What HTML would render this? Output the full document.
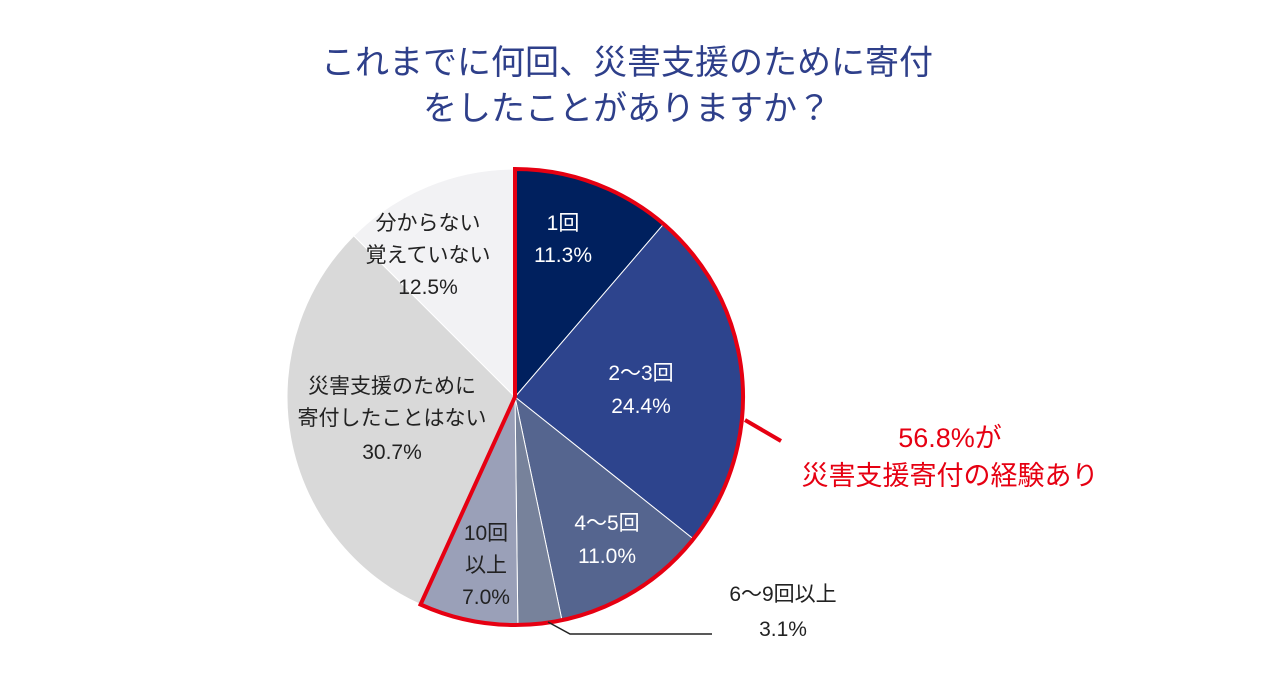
<!DOCTYPE html>
<html><head><meta charset="utf-8">
<style>
body{margin:0;background:#fff;}
svg text{font-family:"Liberation Sans","Noto Sans CJK JP",sans-serif;}
</style></head>
<body>
<svg id="s" width="1280" height="670" xmlns="http://www.w3.org/2000/svg">
<text x="627" y="74" font-size="34" fill="#2e3f8a" text-anchor="middle">これまでに何回、災害支援のために寄付</text>
<text x="627" y="120" font-size="34" fill="#2e3f8a" text-anchor="middle">をしたことがありますか？</text>
<g id="pie"></g>
<g font-size="21" text-anchor="middle">
<text x="563" y="230" fill="#fff">1回</text>
<text x="563" y="262" fill="#fff">11.3%</text>
<text x="641" y="380" fill="#fff">2〜3回</text>
<text x="641" y="413" fill="#fff">24.4%</text>
<text x="607" y="530" fill="#fff">4〜5回</text>
<text x="607" y="563" fill="#fff">11.0%</text>
<text x="486" y="540" fill="#222">10回</text>
<text x="486" y="572" fill="#222">以上</text>
<text x="486" y="604" fill="#222">7.0%</text>
<text x="392" y="393" fill="#222">災害支援のために</text>
<text x="392" y="425" fill="#222">寄付したことはない</text>
<text x="392" y="459" fill="#222">30.7%</text>
<text x="428" y="230" fill="#222">分からない</text>
<text x="428" y="262" fill="#222">覚えていない</text>
<text x="428" y="294" fill="#222">12.5%</text>
<text x="783" y="601" fill="#222">6〜9回以上</text>
<text x="783" y="636" fill="#222">3.1%</text>
</g>
<polyline points="548,622 570,634 712,634" fill="none" stroke="#222" stroke-width="1.5"/>
<line x1="745" y1="420" x2="781" y2="441" stroke="#e60012" stroke-width="4"/>
<text x="950" y="447" font-size="27" fill="#e60012" text-anchor="middle">56.8%が</text>
<text x="950" y="485" font-size="27" fill="#e60012" text-anchor="middle">災害支援寄付の経験あり</text>
</svg>
<script>
var cx=515,cy=397,r=228;
var v=[11.3,24.4,11.0,3.1,7.0,30.7,12.5];
var c=["#00205e","#2d448d","#55658f","#77829b","#9aa0b8","#d9d9d9","#f2f2f4"];
function pt(f){var a=f*2*Math.PI;return [cx+r*Math.sin(a),cy-r*Math.cos(a)];}
var g=document.getElementById("pie"),h="",acc=0,tot=100;
for(var i=0;i<v.length;i++){var a0=acc/tot,a1=(acc+v[i])/tot;acc+=v[i];
var p0=pt(a0),p1=pt(a1),lg=(a1-a0)>0.5?1:0;
h+='<path d="M'+cx+','+cy+' L'+p0[0]+','+p0[1]+' A'+r+','+r+' 0 '+lg+' 1 '+p1[0]+','+p1[1]+' Z" fill="'+c[i]+'" stroke="#fff" stroke-width="1"/>';}
var e=pt(0.568),s=pt(0);
h+='<path d="M'+cx+','+cy+' L'+s[0]+','+s[1]+' A'+r+','+r+' 0 1 1 '+e[0]+','+e[1]+' Z" fill="none" stroke="#e60012" stroke-width="4" stroke-linejoin="miter"/>';
g.innerHTML=h;
</script>
</body></html>
